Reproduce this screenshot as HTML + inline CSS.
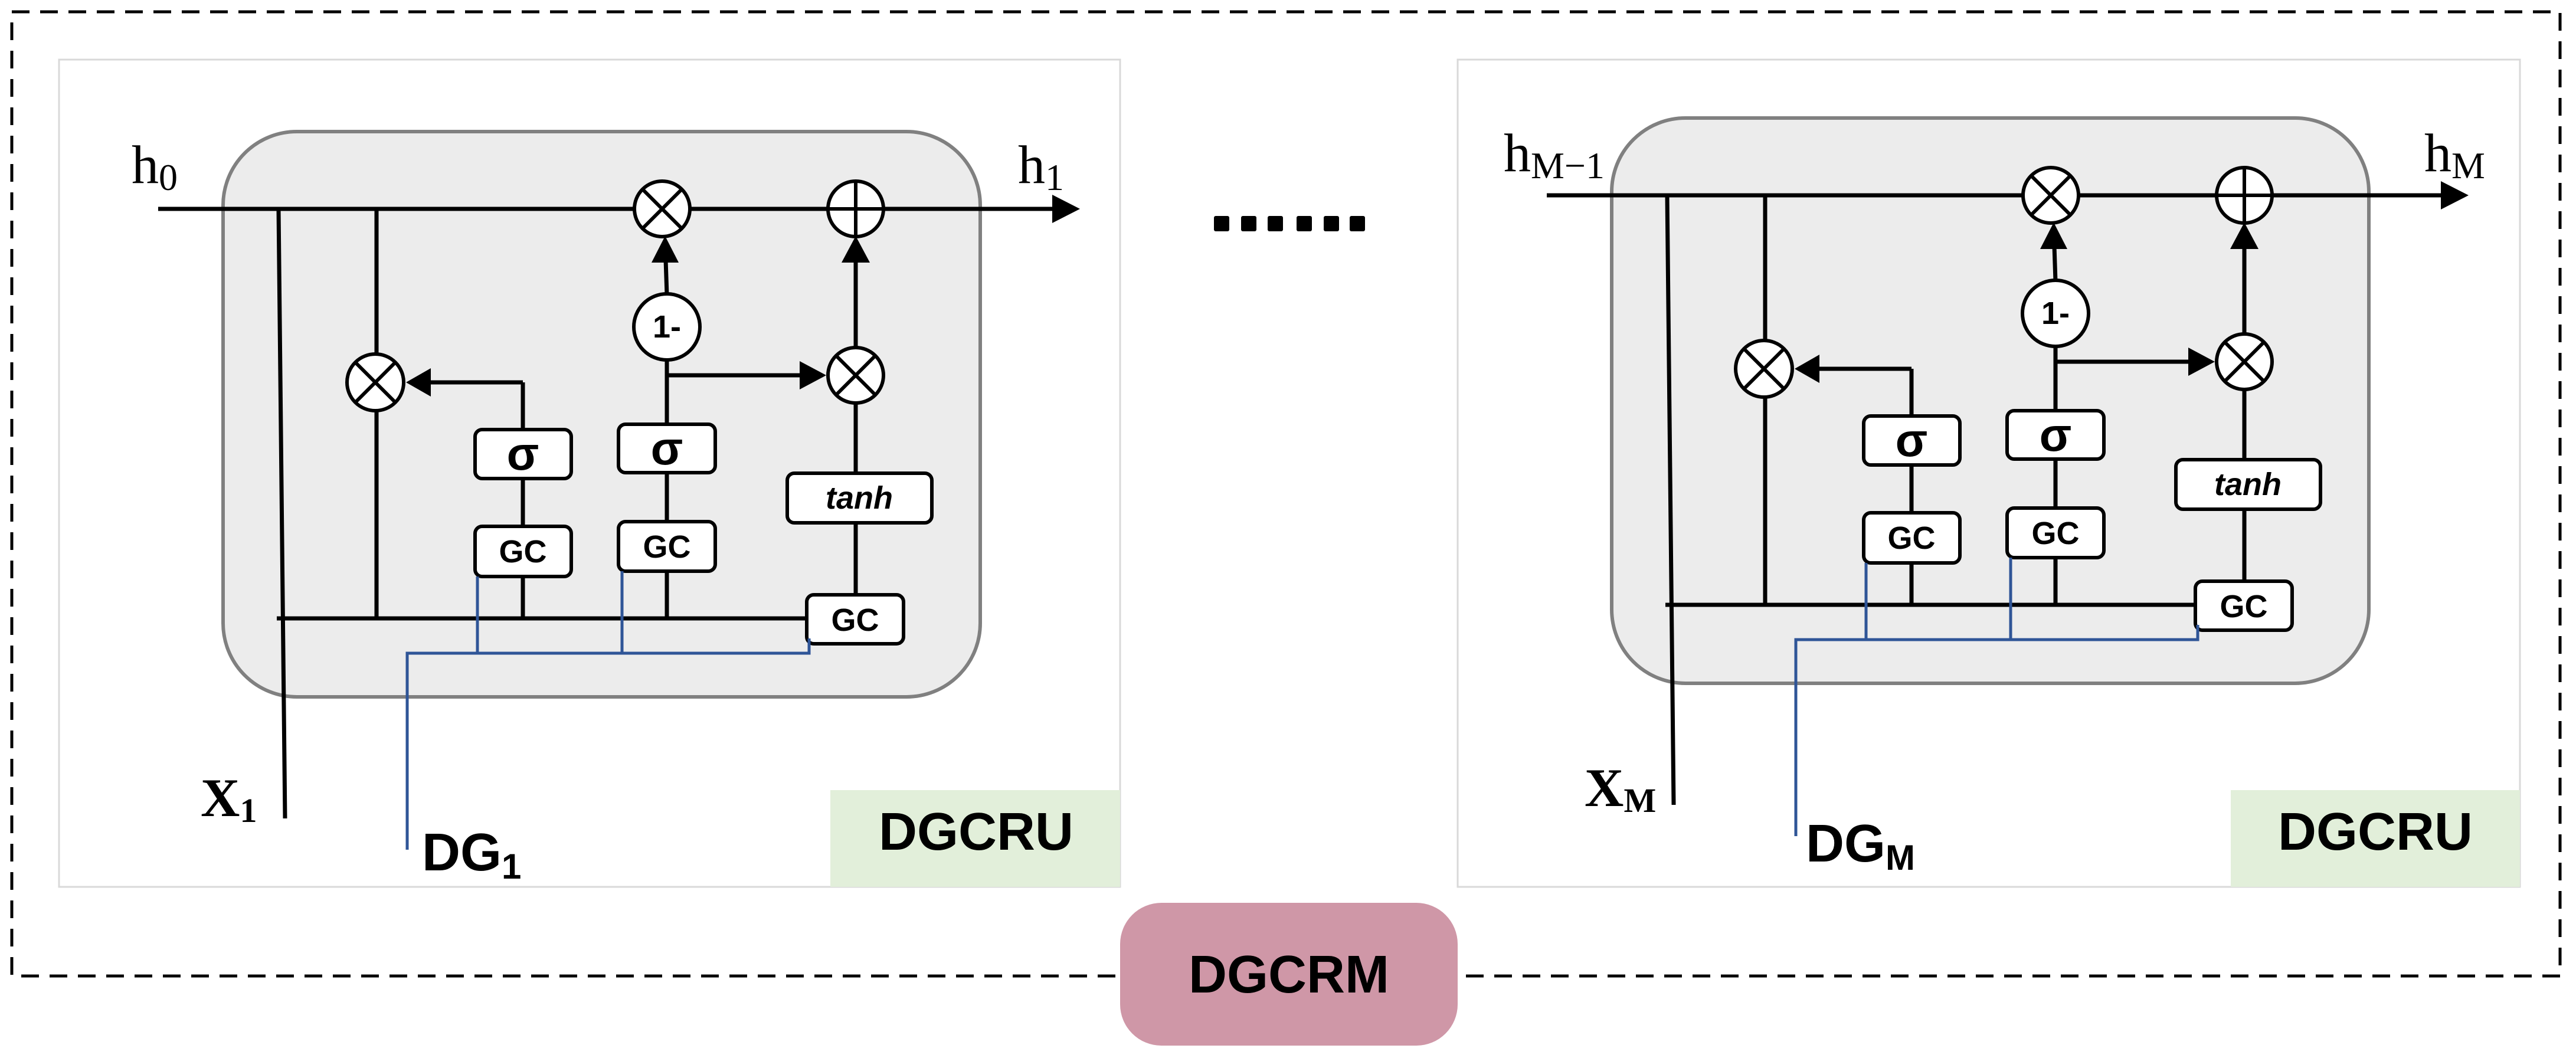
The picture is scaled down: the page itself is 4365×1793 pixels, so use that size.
<!DOCTYPE html>
<html><head><meta charset="utf-8"><style>
html,body{margin:0;padding:0;background:#fff;}
svg{display:block;}
.ln{stroke:#000;stroke-width:7;fill:none;}
.bl{stroke:#2f5597;stroke-width:5;fill:none;}
.bx{fill:#fff;stroke:#000;stroke-width:6;}
.gc{font-family:"Liberation Sans",sans-serif;font-weight:bold;font-size:54px;text-anchor:middle;}
.sg{font-family:"Liberation Sans",sans-serif;font-weight:bold;font-size:80px;text-anchor:middle;}
.th{font-family:"Liberation Sans",sans-serif;font-weight:bold;font-style:italic;font-size:54px;text-anchor:middle;}
.hl{font-family:"Liberation Serif",serif;font-size:92px;}
.big{font-family:"Liberation Sans",sans-serif;font-weight:bold;font-size:90px;}
</style></head><body>
<svg width="4365" height="1793" viewBox="0 0 4365 1793" xmlns="http://www.w3.org/2000/svg">
<defs>
<g id="cell">
<rect x="378" y="223" width="1283" height="958" rx="125" fill="#ececec" stroke="#808080" stroke-width="6"/>
<line class="ln" x1="268" y1="354" x2="1790" y2="354"/>
<path d="M1783,330 L1830,354 L1783,378 z"/>
<line class="ln" x1="472" y1="354" x2="483" y2="1387"/>
<line class="ln" x1="638" y1="354" x2="638" y2="1048"/>
<line class="ln" x1="469" y1="1048" x2="1367" y2="1048"/>
<line class="ln" x1="886" y1="1048" x2="886" y2="648"/>
<line class="ln" x1="886" y1="648" x2="725" y2="648"/>
<path d="M730,624 L688,648 L730,672 z"/>
<line class="ln" x1="1130" y1="1048" x2="1130" y2="600"/>
<line class="ln" x1="1130" y1="500" x2="1128" y2="440"/>
<path d="M1104,445 L1127,400 L1150,445 z"/>
<line class="ln" x1="1130" y1="636" x2="1360" y2="636"/>
<path d="M1355,612 L1400,636 L1355,660 z"/>
<line class="ln" x1="1450" y1="1010" x2="1450" y2="680"/>
<line class="ln" x1="1450" y1="590" x2="1450" y2="440"/>
<path d="M1426,445 L1450,400 L1474,445 z"/>
<g stroke="#000" stroke-width="6" fill="#fff">
<circle cx="1122" cy="354" r="47"/><line x1="1089" y1="321" x2="1155" y2="387"/><line x1="1155" y1="321" x2="1089" y2="387"/>
<circle cx="1450" cy="354" r="47"/><line x1="1403" y1="354" x2="1497" y2="354"/><line x1="1450" y1="307" x2="1450" y2="401"/>
<circle cx="636" cy="648" r="48"/><line x1="602" y1="614" x2="670" y2="682"/><line x1="670" y1="614" x2="602" y2="682"/>
<circle cx="1450" cy="636" r="47"/><line x1="1417" y1="603" x2="1483" y2="669"/><line x1="1483" y1="603" x2="1417" y2="669"/>
<circle cx="1130" cy="554" r="56"/>
</g>
<text x="1130" y="572" class="gc" font-size="48">1-</text>
<rect class="bx" x="805" y="728" width="163" height="83" rx="12"/><text x="886" y="796" class="sg">σ</text>
<rect class="bx" x="805" y="892" width="163" height="85" rx="12"/><text x="886" y="953" class="gc">GC</text>
<rect class="bx" x="1048" y="719" width="164" height="82" rx="12"/><text x="1130" y="787" class="sg">σ</text>
<rect class="bx" x="1048" y="884" width="164" height="84" rx="12"/><text x="1130" y="945" class="gc">GC</text>
<rect class="bx" x="1334" y="802" width="245" height="84" rx="12"/><text x="1456" y="862" class="th">tanh</text>
<rect class="bx" x="1367" y="1008" width="164" height="83" rx="12"/><text x="1449" y="1069" class="gc">GC</text>
<polyline class="bl" points="809,977 809,1107"/>
<polyline class="bl" points="1054,968 1054,1107"/>
<polyline class="bl" points="690,1440 690,1107 1371,1107 1371,1082"/>
</g>
</defs>
<rect x="20" y="20" width="4318" height="1634" fill="none" stroke="#000" stroke-width="5" stroke-dasharray="30,18"/>
<rect x="100" y="101" width="1798" height="1402" fill="#fff" stroke="#d9d9d9" stroke-width="3"/>
<rect x="1407" y="1339" width="491" height="164" fill="#e2efda"/>
<text x="1654" y="1440" class="big" text-anchor="middle">DGCRU</text>
<use href="#cell"/>
<text x="223" y="310" class="hl">h<tspan font-size="64" dy="12">0</tspan></text>
<text x="1725" y="310" class="hl">h<tspan font-size="64" dy="12">1</tspan></text>
<text x="340" y="1383" class="hl" font-weight="bold">X<tspan font-size="58" dy="10">1</tspan></text>
<text x="715" y="1475" class="big">DG<tspan font-size="60" dy="14">1</tspan></text>
<g fill="#000">
<rect x="2057" y="366" width="26" height="26" rx="3"/><rect x="2103" y="366" width="26" height="26" rx="3"/>
<rect x="2148" y="366" width="26" height="26" rx="3"/><rect x="2197" y="366" width="26" height="26" rx="3"/>
<rect x="2243" y="366" width="26" height="26" rx="3"/><rect x="2287" y="366" width="26" height="26" rx="3"/>
</g>
<rect x="2470" y="101" width="1800" height="1402" fill="#fff" stroke="#d9d9d9" stroke-width="3"/>
<rect x="3780" y="1339" width="490" height="164" fill="#e2efda"/>
<text x="4025" y="1440" class="big" text-anchor="middle">DGCRU</text>
<use href="#cell" transform="translate(2353,-23)"/>
<text x="2548" y="290" class="hl">h<tspan font-size="64" dy="12">M−1</tspan></text>
<text x="4108" y="290" class="hl">h<tspan font-size="64" dy="12">M</tspan></text>
<text x="2685" y="1366" class="hl" font-weight="bold">X<tspan font-size="58" dy="10">M</tspan></text>
<text x="3060" y="1460" class="big">DG<tspan font-size="60" dy="14">M</tspan></text>
<rect x="1898" y="1530" width="572" height="242" rx="70" fill="#cf97a7"/>
<text x="2184" y="1682" class="big" text-anchor="middle">DGCRM</text>
</svg>
</body></html>
